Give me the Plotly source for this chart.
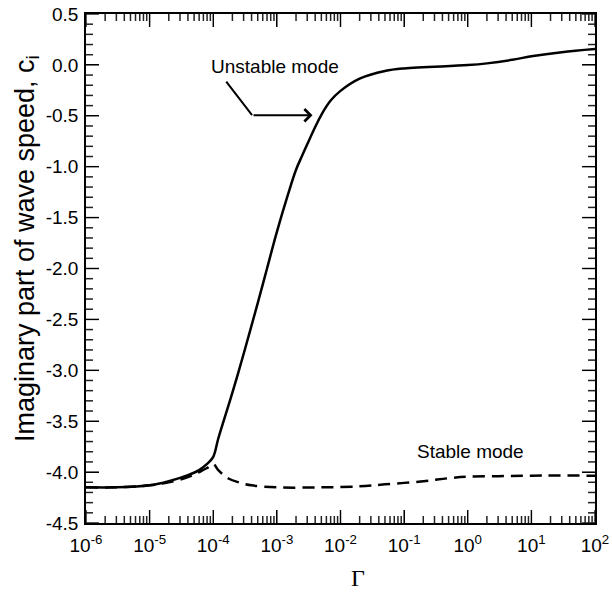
import plotly.graph_objects as go

# ---- data ----
unstable_gamma = [1e-6, 3e-6, 1e-5, 2e-5, 4e-5, 6e-5, 8e-5, 1e-4, 1.2e-4, 2e-4, 3e-4, 5e-4,
                  7e-4, 1e-3, 1.5e-3, 2e-3, 2.5e-3, 3e-3, 4e-3, 5e-3, 7e-3, 1e-2, 2e-2, 5e-2,
                  1e-1, 1.0, 2.0, 5.0, 10.0, 30.0, 100.0]
unstable_ci = [-4.15, -4.15, -4.13, -4.09, -4.03, -3.98, -3.92, -3.85, -3.67, -3.22, -2.84, -2.34,
               -2.00, -1.64, -1.27, -1.03, -0.89, -0.78, -0.61, -0.49, -0.35, -0.255, -0.135,
               -0.06, -0.035, -0.002, 0.015, 0.05, 0.085, 0.125, 0.155]

stable_gamma = [1e-6, 3e-6, 1e-5, 2e-5, 4e-5, 6e-5, 8e-5, 1e-4, 1.2e-4, 1.7e-4, 2.5e-4, 4e-4,
                1e-3, 5e-3, 2e-2, 5e-2, 2e-1, 5e-1, 1.0, 3.0, 10.0, 100.0]
stable_ci = [-4.15, -4.15, -4.13, -4.10, -4.05, -4.00, -3.96, -3.92, -3.98, -4.06, -4.10, -4.13,
             -4.15, -4.15, -4.14, -4.12, -4.09, -4.06, -4.045, -4.04, -4.035, -4.035]

x_tick_vals = [1e-6, 1e-5, 1e-4, 1e-3, 1e-2, 1e-1, 1e0, 1e1, 1e2]
x_tick_text = ["10<sup>-6</sup>", "10<sup>-5</sup>", "10<sup>-4</sup>", "10<sup>-3</sup>",
               "10<sup>-2</sup>", "10<sup>-1</sup>", "10<sup>0</sup>", "10<sup>1</sup>",
               "10<sup>2</sup>"]
x_minor_vals = [m * d for d in x_tick_vals[:-1] for m in range(2, 10)]
y_tick_vals = [0.5, 0.0, -0.5, -1.0, -1.5, -2.0, -2.5, -3.0, -3.5, -4.0, -4.5]
y_tick_text = ["0.5", "0.0", "-0.5", "-1.0", "-1.5", "-2.0", "-2.5", "-3.0", "-3.5", "-4.0", "-4.5"]
y_minor_vals = [round(-4.5 + 0.1 * k, 1) for k in range(51) if k % 5 != 0]

FONT = "Liberation Sans, Arial, sans-serif"
W, H = 612, 597
ML, MR, MT, MB = 86, 17, 14, 74
PW, PH = W - ML - MR, H - MT - MB
MAJOR_LEN, MINOR_LEN = 13, 7
X_RANGE = [-6, 2]        # log10 range
Y_RANGE = [-4.5, 0.5]

fig = go.Figure()
fig.add_trace(go.Scatter(x=stable_gamma, y=stable_ci, mode="lines",
                         line=dict(color="black", width=2.5, dash="12px,7px", shape="spline"),
                         showlegend=False, hoverinfo="skip"))
fig.add_trace(go.Scatter(x=unstable_gamma, y=unstable_ci, mode="lines",
                         line=dict(color="black", width=2.5, shape="spline", smoothing=1.0),
                         showlegend=False, hoverinfo="skip"))

# inside tick marks on all four sides, derived from the tick lists and axis ranges
tx, ty = [], []
ylo, yhi = Y_RANGE
for vals, length in ((x_tick_vals, MAJOR_LEN), (x_minor_vals, MINOR_LEN)):
    dy = length / PH * (yhi - ylo)
    for v in vals:
        tx += [v, v, None, v, v, None]
        ty += [ylo, ylo + dy, None, yhi, yhi - dy, None]
xlo, xhi = X_RANGE
for vals, length in ((y_tick_vals, MAJOR_LEN), (y_minor_vals, MINOR_LEN)):
    dlx = length / PW * (xhi - xlo)
    for v in vals:
        tx += [10 ** xlo, 10 ** (xlo + dlx), None, 10 ** xhi, 10 ** (xhi - dlx), None]
        ty += [v, v, None, v, v, None]
fig.add_trace(go.Scatter(x=tx, y=ty, mode="lines", line=dict(color="#222222", width=1.5),
                         connectgaps=False, showlegend=False, hoverinfo="skip"))

axis_common = dict(ticks="inside", ticklen=MAJOR_LEN, tickwidth=1, tickcolor="black",
                   showline=True, linecolor="black", linewidth=1.5, mirror="allticks",
                   showgrid=False, zeroline=False)
fig.update_layout(
    xaxis=dict(type="log", range=X_RANGE, tickmode="array", tickvals=x_tick_vals,
               ticktext=x_tick_text, ticklabelstandoff=4,
               tickfont=dict(family=FONT, size=19, color="black"), **axis_common),
    yaxis=dict(range=Y_RANGE, tickmode="array", tickvals=y_tick_vals, ticktext=y_tick_text,
               ticklabelstandoff=2,
               tickfont=dict(family=FONT, size=19, color="black"), **axis_common),
)

annotations = [
    dict(x=-0.116, y=0.540, xref="paper", yref="paper",
         text="Imaginary part of wave speed, c<sub>i</sub>",
         textangle=-90, showarrow=False, xanchor="center", yanchor="middle",
         font=dict(family=FONT, size=27, color="black")),
    dict(x=-3.03, y=-0.012, xref="x", yref="y", text="Unstable mode", showarrow=False,
         font=dict(family=FONT, size=19, color="black")),
    dict(x=-3.39, y=-0.494, ax=-3.814, ay=-0.15, xref="x", yref="y", axref="x", ayref="y",
         text="", showarrow=True, arrowhead=0, arrowwidth=2, arrowcolor="black"),
    dict(x=-2.44, y=-0.494, ax=-3.39, ay=-0.494, xref="x", yref="y", axref="x", ayref="y",
         text="", showarrow=True, arrowhead=4, arrowsize=1.2, arrowwidth=2, arrowcolor="black"),
    dict(x=0.04, y=-3.80, xref="x", yref="y", text="Stable mode", showarrow=False,
         font=dict(family=FONT, size=19, color="black")),
    dict(x=0.534, y=-0.108, xref="paper", yref="paper", text="\u0393", showarrow=False,
         yanchor="middle", xanchor="center",
         font=dict(family="Liberation Serif, Times New Roman, serif", size=24, color="black")),
]

fig.update_layout(width=W, height=H, margin=dict(l=ML, r=MR, t=MT, b=MB, autoexpand=False),
                  paper_bgcolor="white", plot_bgcolor="white", annotations=annotations,
                  font=dict(family=FONT, color="black"))

fig.write_html("out.html")
